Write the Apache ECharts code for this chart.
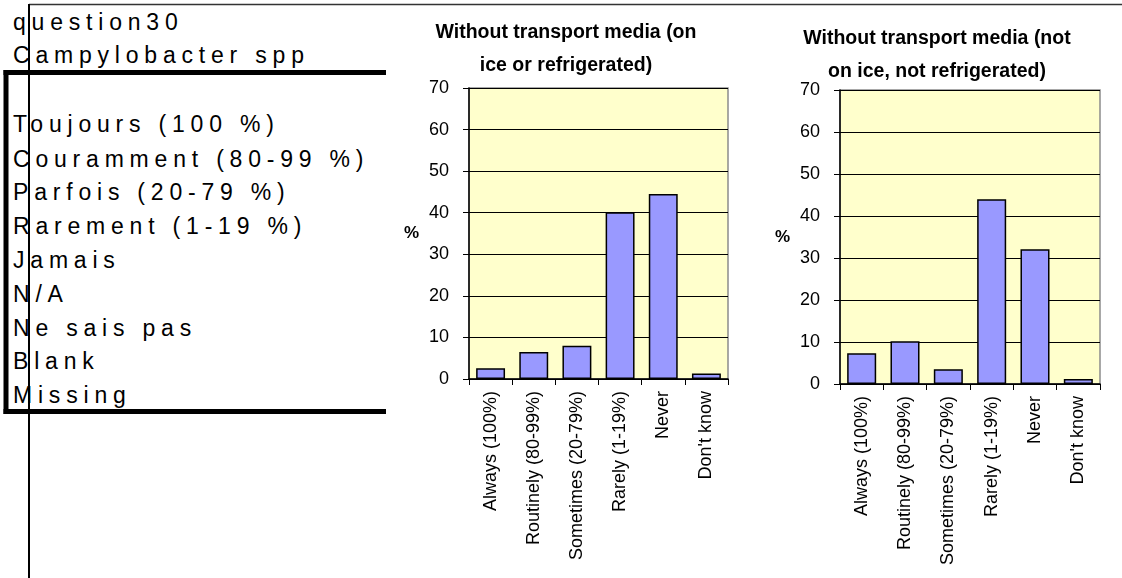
<!DOCTYPE html>
<html>
<head>
<meta charset="utf-8">
<script src="https://cdn.jsdelivr.net/npm/echarts@6/dist/echarts.min.js"></script>
<style>
  html, body { margin: 0; padding: 0; background: #ffffff; }
  #notes, #main { position: absolute; left: 0; top: 0; width: 1122px; height: 578px; }
  /* the survey notes are set with wide tracking */
  #notes text { letter-spacing: 5.8px; }
</style>
</head>
<body>
<div id="notes"></div>
<div id="main"></div>
<script>
// Survey notes shown at the left
const noteHeader = ['question30', 'Campylobacter spp'];
const noteLegend = [
  'Toujours (100 %)',
  'Couramment (80-99 %)',
  'Parfois (20-79 %)',
  'Rarement (1-19 %)',
  'Jamais',
  'N/A',
  'Ne sais pas',
  'Blank',
  'Missing'
];

// Answer categories (x axis)
const categories = [
  'Always (100%)',
  'Routinely (80-99%)',
  'Sometimes (20-79%)',
  'Rarely (1-19%)',
  'Never',
  "Don't know"
];

// Percent of respondents, samples sent without transport media
const onIceValues    = [2.6, 6.5, 8.0, 40.1, 44.5, 1.3];
const notOnIceValues = [7.3, 10.2, 3.5, 44.0, 32.1, 1.2];

const chartTitles = [
  'Without transport media (on\nice or refrigerated)',
  'Without transport media (not\non ice, not refrigerated)'
];

// Y axis scale
const yMin = 0, yMax = 70, yStep = 10;

const FONT = '"Liberation Sans", Arial, Helvetica, sans-serif';

// ---------- notes panel (SVG so the tracking applies) ----------
const notes = echarts.init(document.getElementById('notes'), null, { renderer: 'svg' });
const noteLines = [
  { text: noteHeader[0], y: 22 },
  { text: noteHeader[1], y: 55 }
];
const legendY = [124, 159, 192, 226, 260, 294, 328, 361, 395];
noteLegend.forEach((t, i) => noteLines.push({ text: t, y: legendY[i] }));

notes.setOption({
  animation: false,
  graphic: noteLines.map(l => ({
    type: 'text',
    x: 13,
    y: l.y,
    silent: true,
    style: {
      text: l.text,
      fill: '#000',
      font: '23px ' + FONT,
      align: 'left',
      verticalAlign: 'middle'
    }
  }))
});

// ---------- charts ----------
const chart = echarts.init(document.getElementById('main'));

const grids = [
  { left: 469, top: 88, width: 259, height: 291 },
  { left: 840, top: 90, width: 260, height: 294 }
];

function gridOpt(g) {
  return Object.assign({
    show: true,
    backgroundColor: '#FFFFCC',
    borderColor: '#8c8c8c',
    borderWidth: 1.5
  }, g);
}

function xAxisOpt(idx) {
  return {
    type: 'category',
    gridIndex: idx,
    data: categories,
    axisLine: { show: true, lineStyle: { color: '#000', width: 1.5 } },
    axisTick: { show: true, alignWithLabel: false, length: 6, lineStyle: { color: '#000' } },
    axisLabel: {
      rotate: 90,
      interval: 0,
      margin: 12,
      color: '#000',
      fontFamily: FONT,
      fontSize: 18
    },
    splitLine: { show: false }
  };
}

function yAxisOpt(idx) {
  return {
    type: 'value',
    gridIndex: idx,
    min: yMin,
    max: yMax,
    interval: yStep,
    name: '%',
    nameLocation: 'middle',
    nameRotate: 0,
    nameGap: 50,
    nameTextStyle: { color: '#000', fontWeight: 'bold', fontSize: 17, fontFamily: FONT },
    axisLine: { show: true, lineStyle: { color: '#000', width: 1.5 } },
    axisTick: { show: true, length: 6, lineStyle: { color: '#000' } },
    axisLabel: { color: '#000', fontFamily: FONT, fontSize: 18, margin: 20 },
    splitLine: { show: true, lineStyle: { color: '#000', width: 1 } }
  };
}

function barSeries(idx, values) {
  return {
    type: 'bar',
    xAxisIndex: idx,
    yAxisIndex: idx,
    data: values,
    barCategoryGap: '33%',
    itemStyle: { color: '#9999FF', borderColor: '#000', borderWidth: 1.5 },
    silent: true
  };
}

const titleCenters = [{ x: 566, y: 16 }, { x: 937, y: 22 }];

chart.setOption({
  animation: false,
  grid: grids.map(gridOpt),
  xAxis: [xAxisOpt(0), xAxisOpt(1)],
  yAxis: [yAxisOpt(0), yAxisOpt(1)],
  series: [barSeries(0, onIceValues), barSeries(1, notOnIceValues)],
  graphic: [
    // frame lines
    { type: 'line', silent: true, shape: { x1: 29, y1: 4.5, x2: 1122, y2: 4.5 },
      style: { stroke: '#333', lineWidth: 1.5 } },
    { type: 'line', silent: true, shape: { x1: 29, y1: 4, x2: 29, y2: 578 },
      style: { stroke: '#000', lineWidth: 2 } },
    { type: 'rect', silent: true, shape: { x: 3.5, y: 70, width: 382.5, height: 5 },
      style: { fill: '#000' } },
    { type: 'rect', silent: true, shape: { x: 3.5, y: 409, width: 382.5, height: 5 },
      style: { fill: '#000' } },
    { type: 'rect', silent: true, shape: { x: 3.5, y: 70, width: 5, height: 344 },
      style: { fill: '#000' } },
    // chart titles
    ...chartTitles.map((t, i) => ({
      type: 'text',
      silent: true,
      x: titleCenters[i].x,
      y: titleCenters[i].y,
      style: {
        text: t,
        fill: '#000',
        font: 'bold 19.5px ' + FONT,
        lineHeight: 33,
        align: 'center',
        verticalAlign: 'top'
      }
    }))
  ]
});
</script>
</body>
</html>
